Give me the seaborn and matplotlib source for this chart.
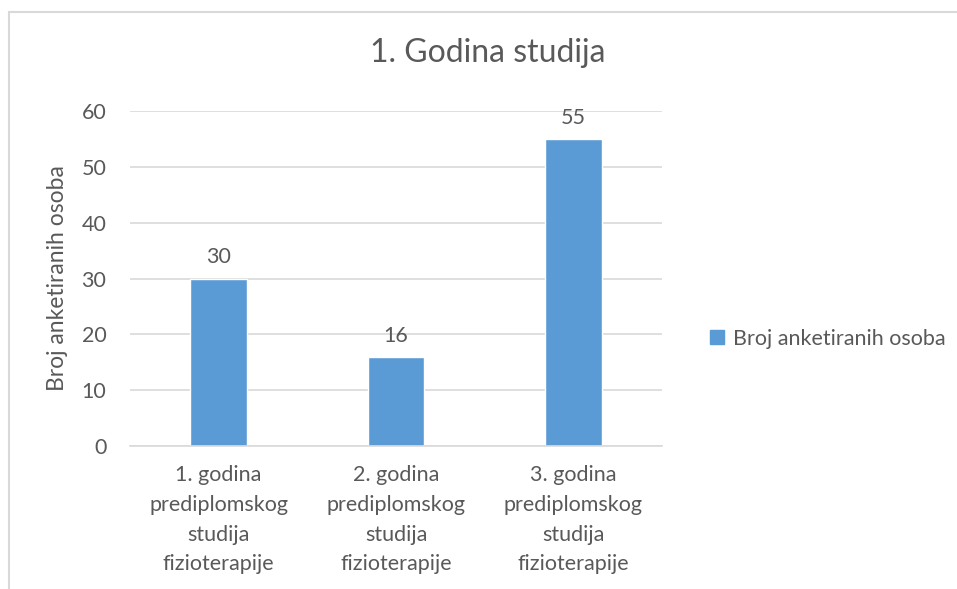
import matplotlib
matplotlib.use("Agg")
import matplotlib.pyplot as plt
import seaborn as sns
import pandas as pd
from matplotlib.patches import Rectangle

# Podaci
kategorije = [
    "1. godina\nprediplomskog\nstudija\nfizioterapije",
    "2. godina\nprediplomskog\nstudija\nfizioterapije",
    "3. godina\nprediplomskog\nstudija\nfizioterapije",
]
broj_osoba = [30, 16, 55]
serija = "Broj anketiranih osoba"

df = pd.DataFrame({"Kategorija": kategorije, "Broj": broj_osoba, "Serija": serija})

sns.set_style("white")
plt.rcParams["font.family"] = ["Lato", "DejaVu Sans"]
siva = "#595959"

fig = plt.figure(figsize=(9.57, 5.89), dpi=100)
ax = fig.add_axes([0.1358, 0.2428, 0.5560, 0.5687])

sns.barplot(data=df, x="Kategorija", y="Broj", hue="Serija",
            palette=["#5B9BD5"], saturation=1, width=0.32, ax=ax, legend=False)

ax.set_ylim(0, 60)
ax.set_yticks(range(0, 61, 10))
ax.yaxis.grid(True, color="#D9D9D9", linewidth=1.2)
ax.set_axisbelow(True)
for s in ["top", "right", "left"]:
    ax.spines[s].set_visible(False)
ax.spines["bottom"].set_color("#D9D9D9")
ax.spines["bottom"].set_linewidth(1.2)
ax.tick_params(axis="both", length=0, labelsize=15.5, colors=siva)
ax.tick_params(axis="y", pad=17)
ax.tick_params(axis="x", pad=14)
for lbl in ax.get_xticklabels():
    lbl.set_linespacing(1.6)

ax.set_xlabel("")
ax.set_ylabel("Broj anketiranih osoba", fontsize=16.5, color=siva, labelpad=10)

# Oznake vrijednosti
for cont in ax.containers:
    ax.bar_label(cont, labels=[str(v) for v in broj_osoba], padding=8,
                 fontsize=15.5, color=siva)

fig.suptitle("1. Godina studija", x=0.51, y=0.935, fontsize=23, color=siva)

# Legenda
handle = Rectangle((0, 0), 1, 1, color="#5B9BD5")
leg = fig.legend([handle], [serija], loc="center left",
                 bbox_to_anchor=(0.722, 0.425), frameon=False, fontsize=15.5,
                 handlelength=0.65, handleheight=0.65, handletextpad=0.4)
for t in leg.get_texts():
    t.set_color(siva)

# Okvir grafikona
fig.add_artist(Rectangle((9 / 957, -0.05), 1.0, 1 - 12 / 589 + 0.05,
                         transform=fig.transFigure, fill=False,
                         edgecolor="#D9D9D9", linewidth=1.5))

fig.savefig("out.png", dpi=100)
